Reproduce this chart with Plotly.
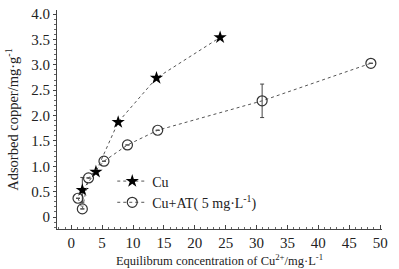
import plotly.graph_objects as go

cu_x = [1.8, 4.0, 7.6, 13.8, 24.1]
cu_y = [0.53, 0.89, 1.87, 2.74, 3.54]
cu_err = [0.25, 0, 0, 0, 0]

at_x = [1.1, 1.8, 2.8, 5.3, 9.1, 14.0, 30.9, 48.5]
at_y = [0.37, 0.16, 0.77, 1.10, 1.42, 1.71, 2.29, 3.03]
at_err = [0, 0, 0, 0, 0, 0, 0.33, 0]

x_ticks = [0, 5, 10, 15, 20, 25, 30, 35, 40, 45, 50]
y_ticks = [0, 0.5, 1.0, 1.5, 2.0, 2.5, 3.0, 3.5, 4.0]
y_ticktext = ["0", "0.5", "1.0", "1.5", "2.0", "2.5", "3.0", "3.5", "4.0"]

font = "Liberation Serif"

fig = go.Figure()
fig.add_trace(go.Scatter(
    x=cu_x, y=cu_y, mode="lines+markers", name="Cu",
    line=dict(color="#555", width=1, dash="dot"),
    marker=dict(symbol="star", size=10, color="black"),
    error_y=dict(type="data", array=cu_err, color="#444", thickness=1, width=2),
))
fig.add_trace(go.Scatter(
    x=at_x, y=at_y, mode="lines+markers", name="Cu+AT( 5 mg·L<sup>-1</sup>)",
    line=dict(color="#555", width=1, dash="dot"),
    marker=dict(symbol="circle-open", size=10, color="#333", line=dict(width=1.2)),
    error_y=dict(type="data", array=at_err, color="#444", thickness=1, width=2),
))

fig.update_layout(
    width=399, height=269,
    margin=dict(l=57, r=17, t=10, b=40, autoexpand=False),
    paper_bgcolor="white", plot_bgcolor="white",
    font=dict(family=font, size=14, color="#222"),
    showlegend=True,
    legend=dict(x=0.17, y=0.29, xanchor="left", yanchor="top",
                bgcolor="rgba(0,0,0,0)", font=dict(size=14), tracegroupgap=0,
                itemwidth=30),
    xaxis=dict(
        range=[-2.3, 50.3], tickvals=x_ticks, showgrid=False, zeroline=False,
        showline=True, linecolor="#444", linewidth=1, automargin=False,
        ticks="inside", ticklen=4, tickcolor="#444",
        minor=dict(ticks="inside", ticklen=2, dtick=1, tickcolor="#666"),
        title=dict(text="Equilibrum concentration of Cu<sup>2+</sup>/mg·L<sup>-1</sup>",
                   font=dict(size=12.5), standoff=6),
        tickfont=dict(size=15),
    ),
    yaxis=dict(
        range=[-0.236, 4.08], tickvals=y_ticks, ticktext=y_ticktext,
        showgrid=False, zeroline=False, automargin=False,
        showline=True, linecolor="#444", linewidth=1,
        ticks="outside", ticklen=3, tickcolor="#444",
        minor=dict(ticks="outside", ticklen=2, dtick=0.1, tickcolor="#666"),
        title=dict(text="Adsorbed copper/mg·g<sup>-1</sup>", font=dict(size=14.5), standoff=9),
        tickfont=dict(size=15),
    ),
)

fig.write_html("out.html")
